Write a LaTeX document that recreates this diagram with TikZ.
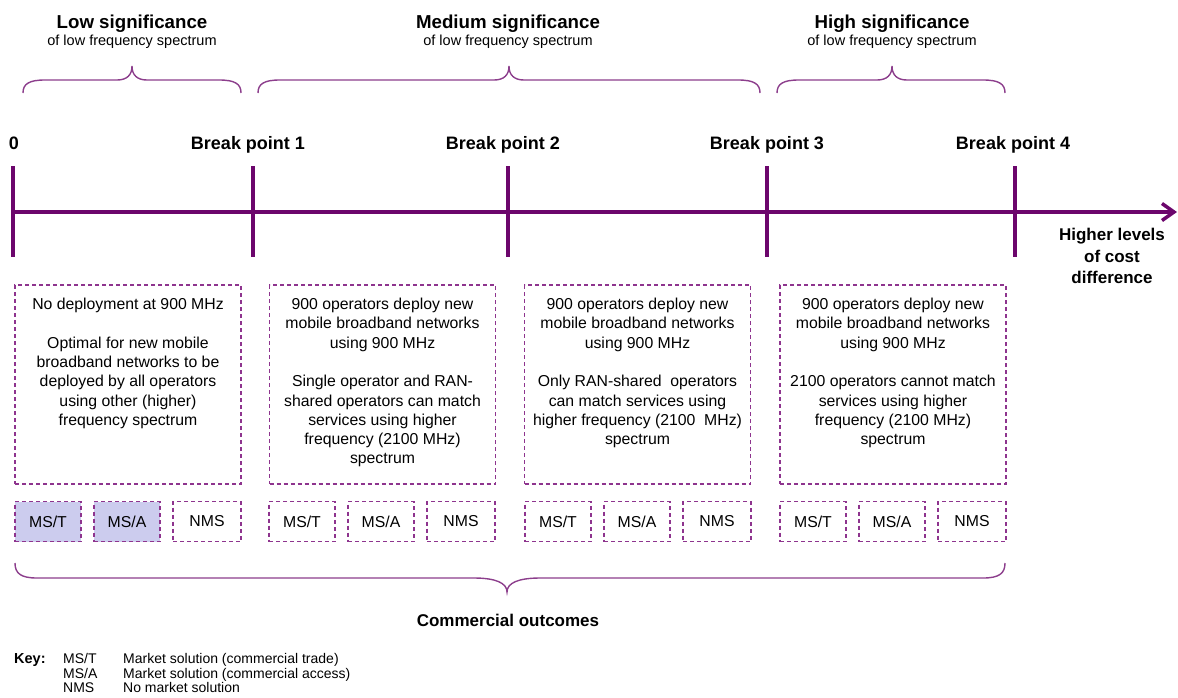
\documentclass[tikz,border=0pt]{standalone}
\usepackage{fontspec}
\setmainfont{Liberation Sans}
\usetikzlibrary{arrows.meta}

\definecolor{axispurple}{RGB}{108,6,108}
\definecolor{dashpurple}{RGB}{142,52,142}
\definecolor{bracepurple}{RGB}{140,62,140}
\definecolor{msfill}{RGB}{204,204,238}

% curly brace: #1 left x, #2 tip x, #3 right x, #4 end y, #5 flat y, #6 tip y, #7 tip half-width
\newcommand\sigbrace[7]{%
  \draw[brace] (#1,#4) .. controls (#1,{#4+(#5-#4)*0.7}) and ({#1+6},#5) .. ({#1+22},#5)
    -- ({#2-#7},#5) .. controls ({#2-#7*0.35},#5) and (#2,{#5+(#6-#5)*0.35}) .. (#2,#6)
    .. controls (#2,{#5+(#6-#5)*0.35}) and ({#2+#7*0.35},#5) .. ({#2+#7},#5)
    -- ({#3-22},#5) .. controls ({#3-6},#5) and (#3,{#4+(#5-#4)*0.7}) .. (#3,#4);}

\begin{document}
\begin{tikzpicture}[x=1pt,y=-1pt,
  axis/.style={line width=3.5pt, draw=axispurple},
  tickmark/.style={line width=4pt, draw=axispurple},
  brace/.style={line width=1.4pt, draw=bracepurple},
  ticklabel/.style={font=\fontsize{18}{21}\selectfont\bfseries, inner sep=0, anchor=base},
  sigtitle/.style={font=\fontsize{18.7}{22}\selectfont\bfseries, inner sep=0, anchor=base},
  sigsub/.style={font=\fontsize{14.5}{17}\selectfont, inner sep=0, anchor=base},
  bigbox/.style={draw=dashpurple, line width=1.3pt, dash pattern=on 4pt off 3pt,
    minimum width=226pt, minimum height=199pt, inner sep=0},
  boxtext/.style={font=\fontsize{15.8}{19.3}\selectfont, align=center, inner sep=0, anchor=north},
  smallbox/.style={draw=dashpurple, line width=1.3pt, dash pattern=on 4pt off 3pt,
    minimum width=66pt, minimum height=40pt, inner sep=0, font=\fontsize{15.8}{19}\selectfont},
  msbox/.style={smallbox, fill=msfill},
  keytext/.style={font=\fontsize{14}{14.3}\selectfont, inner sep=0, anchor=base west},
  headtext/.style={font=\fontsize{17}{21.5}\selectfont\bfseries, align=center, inner sep=0, anchor=north},
]
\useasboundingbox (0,0) rectangle (1178,697);

% significance headings and braces
\node[sigtitle] (lowt) at (132,28) {Low significance};
\node[sigsub] (lows) at (132,45.5) {of low frequency spectrum};
\node[sigtitle] (medt) at (508,28) {Medium significance};
\node[sigsub] (meds) at (508,45.5) {of low frequency spectrum};
\node[sigtitle] (hight) at (892,28) {High significance};
\node[sigsub] (highs) at (892,45.5) {of low frequency spectrum};

\sigbrace{23}{132}{241}{93}{80}{66}{15}
\sigbrace{258}{509}{760}{93}{80}{66}{15}
\sigbrace{777}{892}{1005}{93}{80}{66}{15}

% cost-difference axis with break points
\coordinate (tk0) at (13,212);
\coordinate (tk1) at (253,212);
\coordinate (tk2) at (508,212);
\coordinate (tk3) at (767,212);
\coordinate (tk4) at (1015,212);
\coordinate (axend) at (1177,212);

\draw[axis, -{Straight Barb[length=12pt,width=17pt]}] (tk0) -- (axend);
\foreach \t in {tk0,tk1,tk2,tk3,tk4}
  \draw[tickmark] ([yshift=46pt]\t) -- ([yshift=-45pt]\t);

\node[ticklabel] (l0) at (14,149) {0};
\node[ticklabel] (l1) at (248,149) {Break point 1};
\node[ticklabel] (l2) at (503,149) {Break point 2};
\node[ticklabel] (l3) at (767,149) {Break point 3};
\node[ticklabel] (l4) at (1013,149) {Break point 4};

\node[headtext] (hl) at (1112,228) {Higher levels\\of cost\\difference};

% outcome descriptions
\node[bigbox] (b1) at (128,384.5) {};
\node[bigbox] (b2) at (382.5,384.5) {};
\node[bigbox] (b3) at (637.5,384.5) {};
\node[bigbox] (b4) at (893,384.5) {};

\node[boxtext] (t1) at ([yshift=-13.5pt]b1.north) {No deployment at 900 MHz\\[19.3pt]
  Optimal for new mobile\\broadband networks to be\\deployed by all operators\\
  using other (higher)\\frequency spectrum};
\node[boxtext] (t2) at ([yshift=-13.5pt]b2.north) {900 operators deploy new\\
  mobile broadband networks\\using 900 MHz\\[19.3pt]
  Single operator and RAN-\\shared operators can match\\services using higher\\
  frequency (2100 MHz)\\spectrum};
\node[boxtext] (t3) at ([yshift=-13.5pt]b3.north) {900 operators deploy new\\
  mobile broadband networks\\using 900 MHz\\[19.3pt]
  Only RAN-shared\ \ operators\\can match services using\\
  higher frequency (2100\ \ MHz)\\spectrum};
\node[boxtext] (t4) at ([yshift=-13.5pt]b4.north) {900 operators deploy new\\
  mobile broadband networks\\using 900 MHz\\[19.3pt]
  2100 operators cannot match\\services using higher\\
  frequency (2100 MHz)\\spectrum};

% commercial outcome boxes
\node[msbox] (g1t) at (48,521.5) {MS/T};
\node[msbox] (g1a) at (127,521.5) {MS/A};
\node[smallbox, minimum width=68pt] (g1n) at (207,521.5) {NMS};
\foreach \i/\L in {2/269,3/525,4/780}{
  \node[smallbox] (g\i t) at ({\L+33},521.5) {MS/T};
  \node[smallbox] (g\i a) at ({\L+112},521.5) {MS/A};
  \node[smallbox, minimum width=68pt] (g\i n) at ({\L+192},521.5) {NMS};
}

\sigbrace{15}{507}{1005}{563}{578}{592}{33}
\node[ticklabel, font=\fontsize{17}{20}\selectfont\bfseries] (co) at (508,626) {Commercial outcomes};

% key
\node[keytext, font=\fontsize{14.5}{15}\selectfont\bfseries] (key) at (14,663) {Key:};
\node[keytext] (k1) at (63,663) {MS/T};
\node[keytext] (k2) at (63,678) {MS/A};
\node[keytext] (k3) at (63,692) {NMS};
\node[keytext] (d1) at (123,663) {Market solution (commercial trade)};
\node[keytext] (d2) at (123,678) {Market solution (commercial access)};
\node[keytext] (d3) at (123,692) {No market solution};
\end{tikzpicture}
\end{document}
